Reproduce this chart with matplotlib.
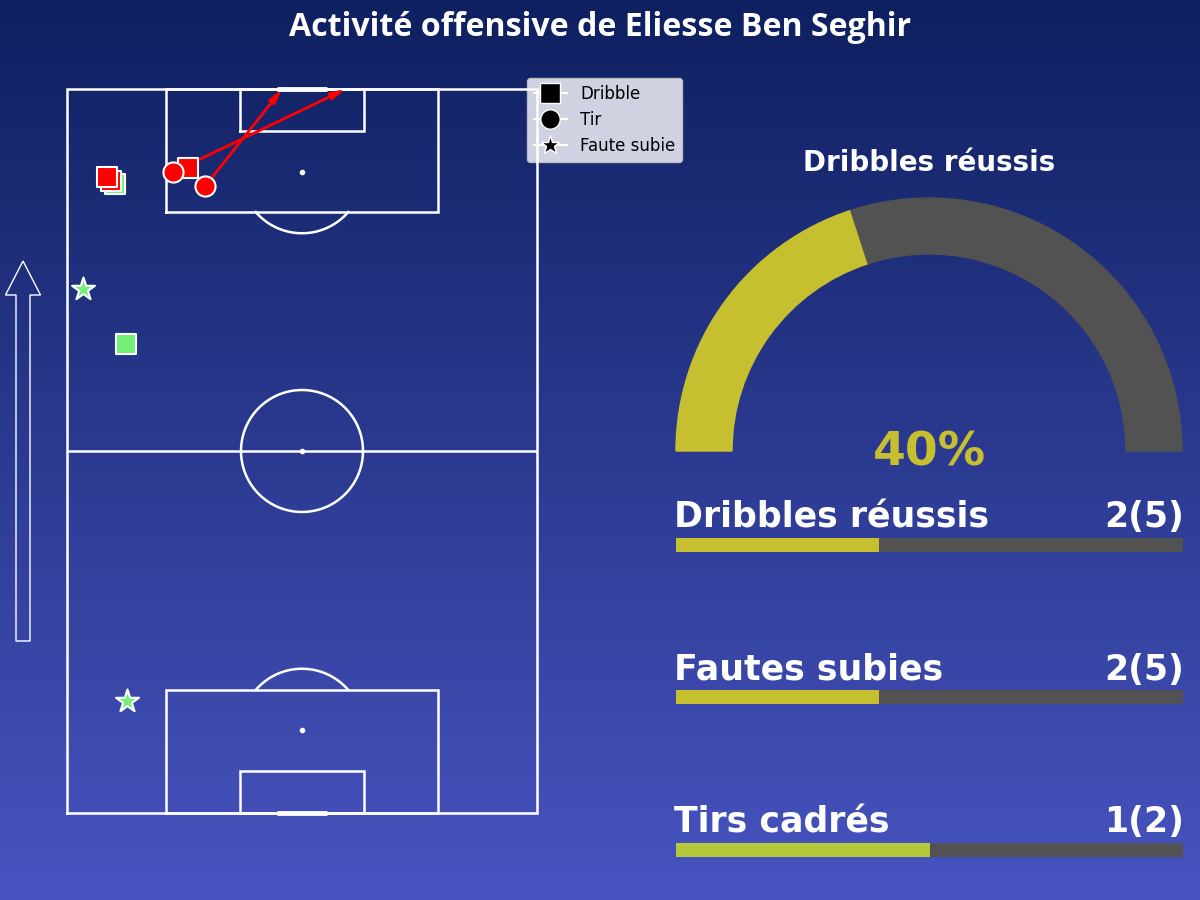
import os
import numpy as np
import matplotlib
matplotlib.use("Agg")
import matplotlib.pyplot as plt
from matplotlib import font_manager
from matplotlib.patches import Wedge, FancyArrow
from matplotlib.lines import Line2D

# opta coordinates (0-100), attacking upwards
drib_ok_x = [10.2, 12.55]
drib_ok_y = [86.9, 64.8]
drib_ko_x = [9.4, 8.5, 25.7]
drib_ko_y = [87.3, 87.85, 89.1]

shot_x = [22.55, 29.4]
shot_y = [88.5, 86.6]
shot_end_x = [59.3, 45.8]
shot_end_y = [100.0, 100.0]

foul_x = [3.4, 12.8]
foul_y = [72.4, 15.5]

stat_labels = ["Dribbles réussis", "Fautes subies", "Tirs cadrés"]
stat_success = [2, 2, 1]
stat_total = [5, 5, 2]
stat_colors = ["#c6c030", "#c6c030", "#b4c83a"]

player = "Eliesse Ben Seghir"

RED = "#ff0000"
GREEN = "#73f075"
YELLOW = "#c6c030"
GREY = "#525252"


def pick_title_font():
    files = [f.fname for f in font_manager.fontManager.ttflist]
    for want in ("notosans-bold.", "opensans-bold."):
        for fn in files:
            if os.path.basename(fn).lower().startswith(want):
                return font_manager.FontProperties(fname=fn)
    for fn in files:
        b = os.path.basename(fn).lower()
        if ("notosans" in b or "opensans" in b) and "bold" in b and not any(
                k in b for k in ("cond", "semi", "extra", "italic", "cjk", "mono")):
            return font_manager.FontProperties(fname=fn)
    return font_manager.FontProperties(family="Open Sans", weight="bold")


fig = plt.figure(figsize=(12, 9), dpi=100)

# background gradient, axes in pixel units
ax_bg = fig.add_axes([0, 0, 1, 1], zorder=-1)
top = np.array([14, 32, 96]) / 255
bottom = np.array([72, 84, 192]) / 255
t = np.linspace(0, 1, 256)[:, None]
grad = (top * (1 - t) + bottom * t)[:, None, :]
ax_bg.imshow(grad, extent=[0, 1200, 900, 0], aspect="auto")
ax_bg.set_xlim(0, 1200)
ax_bg.set_ylim(900, 0)
ax_bg.axis("off")

# direction of play arrow
ax_bg.add_patch(FancyArrow(23, 641, 0, -380, width=14, head_width=35, head_length=34,
                           length_includes_head=True, fc="none", ec="white", lw=1))

handles = [
    Line2D([0], [0], marker="s", color="w", markerfacecolor="black", markersize=14, label="Dribble"),
    Line2D([0], [0], marker="o", color="w", markerfacecolor="black", markersize=14, label="Tir"),
    Line2D([0], [0], marker="*", color="w", markerfacecolor="black", markersize=14, label="Faute subie"),
]
ax_bg.legend(handles=handles, loc="upper left", bbox_to_anchor=(527 / 1200, 1 - 78 / 900),
             bbox_transform=fig.transFigure, borderaxespad=0, fontsize=12)

title_fp = pick_title_font()
title_fp.set_size(20)
title = fig.text(0.5, 1 - 27 / 900, "Activité offensive de " + player, ha="center", va="center",
                 color="white", fontproperties=title_fp)
# fit the title to the reference width (~623 px)
w = title.get_window_extent(renderer=fig.canvas.get_renderer()).width
title.set_fontsize(min(24, 20 * 623 / w))

# pitch
ax = fig.add_axes([67 / 1200, 87 / 900, 470 / 1200, 724 / 900])
ax.set_xlim(0, 100)
ax.set_ylim(0, 100)
ax.axis("off")
sx, sy = 4.7, 7.24  # pixels per unit
lw = 1.8
lc = "white"


def rect(x0, x1, y0, y1):
    ax.plot([x0, x0, x1, x1, x0], [y0, y1, y1, y0, y0], color=lc, lw=lw, clip_on=False,
            solid_joinstyle="miter")


def circ(cx, cy, r_px, a0=0, a1=360):
    a = np.radians(np.linspace(a0, a1, 200))
    ax.plot(cx + r_px / sx * np.cos(a), cy + r_px / sy * np.sin(a), color=lc, lw=lw, clip_on=False)


rect(0, 100, 0, 100)
ax.plot([0, 100], [50, 50], color=lc, lw=lw)
circ(50, 50, 61)
ax.plot([50, 50, 50], [50, 88.5, 11.5], "o", color=lc, markersize=3)
rect(21.1, 78.9, 83, 100)
rect(36.8, 63.2, 94.2, 100)
rect(21.1, 78.9, 0, 17)
rect(36.8, 63.2, 0, 5.8)
ang = np.degrees(np.arcsin((5.5 * sy) / 61))
circ(50, 88.5, 61, 180 + ang, 360 - ang)
circ(50, 11.5, 61, ang, 180 - ang)
ax.plot([44.7, 55.3], [100, 100], color=lc, lw=3.5, clip_on=False, solid_capstyle="butt")
ax.plot([44.7, 55.3], [0, 0], color=lc, lw=3.5, clip_on=False, solid_capstyle="butt")

for x0, y0, x1, y1 in zip(shot_x, shot_y, shot_end_x, shot_end_y):
    ax.annotate("", xy=(x1, y1), xytext=(x0, y0),
                arrowprops=dict(arrowstyle="-|>,head_length=0.8,head_width=0.2", color=RED, lw=2,
                                shrinkA=0, shrinkB=0, mutation_scale=10), zorder=3)

ax.scatter(drib_ok_x, drib_ok_y, marker="s", s=200, c=GREEN, edgecolors="white", linewidths=1.5, zorder=4)
ax.scatter(drib_ko_x, drib_ko_y, marker="s", s=200, c=RED, edgecolors="white", linewidths=1.5, zorder=4)
ax.scatter(shot_x, shot_y, marker="o", s=210, c=RED, edgecolors="white", linewidths=1.5, zorder=5)
ax.scatter(foul_x, foul_y, marker="*", s=300, c=GREEN, edgecolors="white", linewidths=1.5, zorder=5)

# gauge
pct = stat_success[0] / stat_total[0]
R = 253
ax_g = fig.add_axes([659 / 1200, 179 / 900, 540 / 1200, 540 / 900])
ax_g.set_xlim(-270 / R, 270 / R)
ax_g.set_ylim(-270 / R, 270 / R)
ax_g.set_aspect("equal")
ax_g.axis("off")
split = 180 * (1 - pct)
ax_g.add_patch(Wedge((0, 0), 1, split, 180, width=56 / R, color=YELLOW))
ax_g.add_patch(Wedge((0, 0), 1, 0, split, width=56 / R, color=GREY))
ax_g.text(0, 280 / R, stat_labels[0], ha="center", va="baseline", fontsize=20,
          fontweight="bold", color="white")
ax_g.text(0, -15 / R, f"{pct * 100:.0f}%", ha="center", va="baseline", fontsize=34,
          fontweight="bold", color=YELLOW)

# stat bars
ax_b = fig.add_axes([676 / 1200, 1 - 926.25 / 900, 507 / 1200, 457.5 / 900])
ax_b.set_xlim(0, 1)
ax_b.set_ylim(2.5, -0.5)
ax_b.axis("off")
rows = np.arange(len(stat_labels))
ratios = [s / n for s, n in zip(stat_success, stat_total)]
bh = 14 / 152.5
ax_b.barh(rows, [1] * len(rows), height=bh, color=GREY)
ax_b.barh(rows, ratios, height=bh, color=stat_colors)
for r, lab, s, n in zip(rows, stat_labels, stat_success, stat_total):
    ax_b.text(-0.004, r - 17.5 / 152.5, lab, ha="left", va="baseline", fontsize=25,
              fontweight="bold", color="white")
    ax_b.text(1.002, r - 17.5 / 152.5, f"{s}({n})", ha="right", va="baseline", fontsize=25,
              fontweight="bold", color="white")

fig.savefig("out.png", dpi=100)
